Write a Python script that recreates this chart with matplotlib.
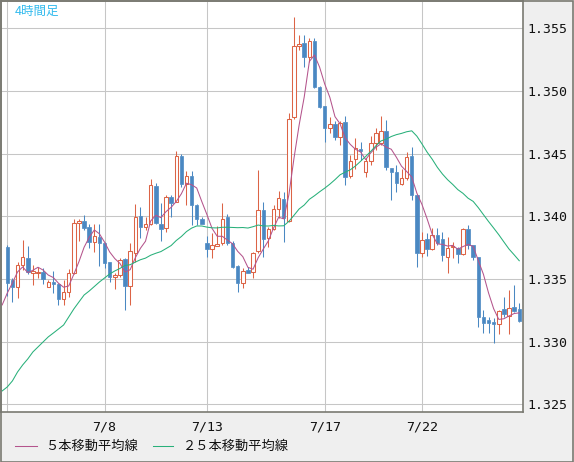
import matplotlib
matplotlib.use('Agg')
import matplotlib.pyplot as plt
from matplotlib.lines import Line2D
from matplotlib.patches import Rectangle
import numpy as np

# ---- data (4-hour candles) ----
opens = [1.33759, 1.33493, 1.33440, 1.33613, 1.33668, 1.33546, 1.33551, 1.33559, 1.33440, 1.33479,
         1.33459, 1.33339, 1.33400, 1.33551, 1.33945, 1.33963, 1.33913, 1.33798, 1.33834, 1.33790,
         1.33634, 1.33519, 1.33533, 1.33658, 1.33445, 1.33711, 1.34003, 1.33913, 1.33937, 1.34243,
         1.33937, 1.33910, 1.34157, 1.34117, 1.34482, 1.34259, 1.34322, 1.34091, 1.33979, 1.33790,
         1.33740, 1.33767, 1.33790, 1.33998, 1.33790, 1.33605, 1.33471, 1.33573, 1.33559, 1.33727,
         1.34051, 1.33826, 1.33897, 1.34057, 1.34137, 1.33966, 1.34790, 1.35359, 1.35385, 1.35269,
         1.35399, 1.35034, 1.34881, 1.34703, 1.34737, 1.34636, 1.34751, 1.34322, 1.34455, 1.34535,
         1.34357, 1.34442, 1.34585, 1.34583, 1.34681, 1.34389, 1.34352, 1.34259, 1.34304, 1.34482,
         1.34171, 1.33711, 1.33818, 1.33738, 1.33852, 1.33818, 1.33679, 1.33754, 1.33746, 1.33700,
         1.33897, 1.33772, 1.33674, 1.33196, 1.33174, 1.33161, 1.33142, 1.33259, 1.33206, 1.33275,
         1.33259]
highs = [1.33772, 1.33511, 1.33639, 1.33812, 1.33764, 1.33613, 1.33599, 1.33586, 1.33493, 1.33567,
         1.33471, 1.33493, 1.33578, 1.33977, 1.33977, 1.34009, 1.33940, 1.33940, 1.33940, 1.33798,
         1.33639, 1.33551, 1.33666, 1.33671, 1.33786, 1.34099, 1.34073, 1.33993, 1.34296, 1.34264,
         1.34105, 1.34171, 1.34171, 1.34522, 1.34498, 1.34365, 1.34365, 1.34099, 1.33993, 1.33844,
         1.33865, 1.33924, 1.34109, 1.34019, 1.33806, 1.33613, 1.33586, 1.33594, 1.33719, 1.34370,
         1.34117, 1.33918, 1.34091, 1.34203, 1.34197, 1.34822, 1.35588, 1.35447, 1.35447, 1.35420,
         1.35420, 1.35040, 1.34881, 1.34795, 1.34763, 1.34763, 1.34801, 1.34490, 1.34623, 1.34596,
         1.34463, 1.34641, 1.34705, 1.34801, 1.34769, 1.34389, 1.34410, 1.34378, 1.34516, 1.34556,
         1.34171, 1.33878, 1.33865, 1.33905, 1.33905, 1.33878, 1.33838, 1.33798, 1.33754, 1.33905,
         1.33932, 1.33772, 1.33679, 1.33254, 1.33200, 1.33188, 1.33254, 1.33360, 1.33413, 1.33453,
         1.33307]
lows = [1.33368, 1.33320, 1.33347, 1.33573, 1.33541, 1.33453, 1.33507, 1.33461, 1.33435, 1.33387,
        1.33294, 1.33294, 1.33360, 1.33541, 1.33804, 1.33892, 1.33746, 1.33719, 1.33605, 1.33586,
        1.33479, 1.33419, 1.33519, 1.33254, 1.33294, 1.33637, 1.33826, 1.33892, 1.33932, 1.33940,
        1.33806, 1.33873, 1.33998, 1.34117, 1.34237, 1.34091, 1.33932, 1.33932, 1.33937, 1.33679,
        1.33666, 1.33767, 1.33772, 1.33772, 1.33586, 1.33400, 1.33427, 1.33546, 1.33507, 1.33706,
        1.33679, 1.33759, 1.33892, 1.33985, 1.33798, 1.33958, 1.34777, 1.35327, 1.35194, 1.35234,
        1.35022, 1.34865, 1.34596, 1.34665, 1.34609, 1.34570, 1.34251, 1.34306, 1.34378, 1.34450,
        1.34317, 1.34410, 1.34530, 1.34570, 1.34370, 1.34131, 1.34197, 1.34251, 1.34290, 1.34131,
        1.33594, 1.33679, 1.33684, 1.33732, 1.33772, 1.33647, 1.33551, 1.33666, 1.33631, 1.33692,
        1.33738, 1.33653, 1.33116, 1.33073, 1.33073, 1.32993, 1.33062, 1.33200, 1.33062, 1.33240,
        1.33161]
closes = [1.33471, 1.33440, 1.33613, 1.33676, 1.33559, 1.33565, 1.33559, 1.33501, 1.33477, 1.33459,
          1.33339, 1.33400, 1.33551, 1.33945, 1.33963, 1.33910, 1.33798, 1.33844, 1.33790, 1.33631,
          1.33519, 1.33533, 1.33653, 1.33445, 1.33724, 1.33993, 1.33913, 1.33937, 1.34251, 1.33950,
          1.33900, 1.34152, 1.34109, 1.34482, 1.34259, 1.34322, 1.34091, 1.33979, 1.33937, 1.33740,
          1.33772, 1.33780, 1.33977, 1.33786, 1.33594, 1.33471, 1.33567, 1.33551, 1.33711, 1.34051,
          1.33818, 1.33897, 1.34057, 1.34145, 1.33985, 1.34777, 1.35359, 1.35375, 1.35269, 1.35399,
          1.35034, 1.34875, 1.34703, 1.34737, 1.34631, 1.34747, 1.34312, 1.34444, 1.34543, 1.34524,
          1.34442, 1.34583, 1.34665, 1.34681, 1.34392, 1.34357, 1.34264, 1.34309, 1.34471, 1.34171,
          1.33711, 1.33812, 1.33738, 1.33852, 1.33790, 1.33692, 1.33746, 1.33764, 1.33698, 1.33897,
          1.33772, 1.33674, 1.33196, 1.33153, 1.33153, 1.33142, 1.33248, 1.33222, 1.33267, 1.33248,
          1.33168]
# moving-average values before enough in-window candles exist, bars -1 .. n-2
ma5_head = [1.33294, 1.33389, 1.33469, 1.33557, 1.33597]
ma25_head = [1.32608, 1.32640, 1.32688, 1.32759, 1.32815, 1.32863, 1.32919, 1.32959, 1.32999,
             1.33039, 1.33070, 1.33102, 1.33134, 1.33198, 1.33262, 1.33318, 1.33373, 1.33405,
             1.33441, 1.33477, 1.33509, 1.33541, 1.33565, 1.33585, 1.33609]
date_tick_bars = [0, 19, 39, 62, 81]
date_tick_labels = ['', '7/8', '7/13', '7/17', '7/22']
price_ticks = [1.325, 1.330, 1.335, 1.340, 1.345, 1.350, 1.355]
title = '4時間足'
legend_labels = ['５本移動平均線', '２５本移動平均線']

# ---- styling ----
UP = '#dc6446'
DOWN = '#4a88c2'
MA5C = '#b4548c'
MA25C = '#28b07a'
BG = '#efefef'
LW = 0.75

W, H = 574, 462
fig = plt.figure(figsize=(W / 100, H / 100), dpi=100, facecolor=BG)
ax = fig.add_axes([1 / W, (H - 412) / H, (523 - 1) / W, (412 - 1) / H])
ax.set_facecolor('white')

n = len(closes)
x = np.arange(n)
o = np.array(opens); h = np.array(highs); l = np.array(lows); c = np.array(closes)

ax.set_xlim(-1.23, 100.73)
ax.set_ylim(1.32440, 1.35718)

# grid
for t in date_tick_bars:
    ax.axvline(t, color='#c6c6c6', lw=LW, zorder=0)
for p in price_ticks:
    ax.axhline(p, color='#c6c6c6', lw=LW, zorder=0)

# candles
bw = 0.68
for i in range(n):
    up = c[i] >= o[i]
    col = UP if up else DOWN
    bot = min(o[i], c[i]); top = max(o[i], c[i])
    ax.vlines(x[i], l[i], bot, color=col, lw=LW, zorder=2)
    ax.vlines(x[i], top, h[i], color=col, lw=LW, zorder=2)
    hgt = max(top - bot, 0.00002)
    if up:
        ax.add_patch(Rectangle((x[i] - bw / 2, bot), bw, hgt, facecolor='white',
                               edgecolor=col, lw=LW, zorder=3))
    else:
        ax.add_patch(Rectangle((x[i] - bw / 2, bot), bw, hgt, facecolor=col,
                               edgecolor=col, lw=0.5, zorder=3))

# moving averages
def sma(vals, k, head):
    out = list(head)
    for i in range(k - 1, len(vals)):
        out.append(float(np.mean(vals[i - k + 1:i + 1])))
    return np.array(out)

ma5 = sma(c, 5, ma5_head)
ma25 = sma(c, 25, ma25_head)
ax.plot(np.arange(-1, -1 + len(ma5)), ma5, color=MA5C, lw=LW, zorder=4)
ax.plot(np.arange(-1, -1 + len(ma25)), ma25, color=MA25C, lw=LW, zorder=4)

# axes
for s in ax.spines.values():
    s.set_color('#7a7a72')
    s.set_linewidth(1.2)
ax.yaxis.tick_right()
ax.set_yticks(price_ticks)
ax.set_yticklabels(['%.3f' % p for p in price_ticks], family='DejaVu Sans Mono', fontsize=9.5, color='#111111')
ax.tick_params(axis='y', length=0, pad=3)
ax.set_xticks(date_tick_bars)
ax.set_xticklabels(date_tick_labels, family='DejaVu Sans Mono', fontsize=9.5, color='#111111')
ax.tick_params(axis='x', length=0, pad=6)

fig.text(15 / W, 1 - 11 / H, title, color='#33bbee', fontsize=9,
         family=['Noto Sans CJK JP', 'DejaVu Sans'], va='center', ha='left')

# legend
ly = 1 - 446 / H
fig.add_artist(Line2D([15 / W, 37 / W], [ly, ly], color=MA5C, lw=LW))
fig.text(45 / W, ly, legend_labels[0], fontsize=9.5, va='center', ha='left',
         family=['Noto Sans CJK JP', 'DejaVu Sans'], color='#111111')
fig.add_artist(Line2D([153 / W, 173 / W], [ly, ly], color=MA25C, lw=LW))
fig.text(183 / W, ly, legend_labels[1], fontsize=9.5, va='center', ha='left',
         family=['Noto Sans CJK JP', 'DejaVu Sans'], color='#111111')

# outer border
fig.add_artist(Rectangle((0.5 / W, 0.5 / H), (W - 1.5) / W, (H - 1.5) / H, transform=fig.transFigure,
                         fill=False, edgecolor='#7a7a72', lw=1.2))

fig.savefig('out.png', dpi=100, facecolor=BG)
